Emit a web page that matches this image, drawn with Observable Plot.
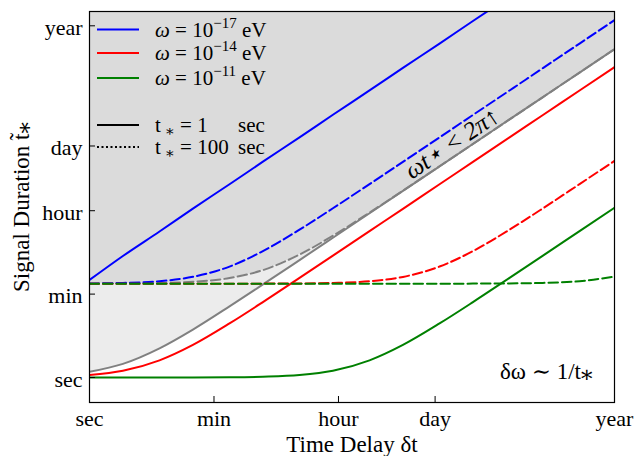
<!DOCTYPE html>
<html>
<head>
<meta charset="utf-8">
<script src="https://cdn.jsdelivr.net/npm/d3@7"></script>
<script src="https://cdn.jsdelivr.net/npm/@observablehq/plot@0.6"></script>
<style>
  body { margin: 0; background: #fff; }
  #chart { position: relative; width: 636px; height: 456px; }
  #legend { position: absolute; left: 0; top: 0; pointer-events: none; }
</style>
</head>
<body>
<div id="chart"></div>
<script>
// Time delay δt (seconds) at which every curve is sampled
const delay = [1, 3, 10, 30, 100, 300, 1e3, 3e3, 1e4, 3e4, 1e5, 3e5, 1e6, 3e6, 1e7, 3.156e7];

// Signal duration t̃* (seconds); "Short" = t* = 1 sec, "Long" = t* = 100 sec
const blueShort  = [120, 390, 1.3e3, 4.0e3, 1.32e4, 4.0e4, 1.32e5, 4.0e5, 1.32e6, 4.0e6, 1.32e7, 4.0e7, 1.32e8, 4.0e8, 1.32e9, 4.2e9];
const blueLong   = [101, 104, 113, 140, 232, 496, 1420, 4060, 1.33e4, 3.97e4, 1.32e5, 3.96e5, 1.32e6, 3.96e6, 1.32e7, 4.17e7];
const redShort   = [1.13, 1.39, 2.32, 4.95, 14.2, 40.5, 133, 396, 1320, 3950, 1.32e4, 3.95e4, 1.32e5, 3.95e5, 1.32e6, 4.15e6];
const redLong    = [100, 100, 100, 100, 100.1, 100.4, 101.3, 104, 113, 139.5, 232, 495, 1420, 4050, 1.33e4, 4.16e4];
const greenShort = [1, 1, 1, 1, 1.01, 1.04, 1.13, 1.39, 2.32, 4.95, 14.2, 40.5, 133, 396, 1320, 4150];
const greenLong  = [100, 100, 100, 100, 100, 100, 100, 100, 100, 100, 100.1, 100.4, 101.3, 104, 113, 141.5];
// ωt* = 2π boundary for each t*
const greyShort  = [1.32, 1.95, 4.18, 10.5, 32.8, 96.4, 319, 955, 3180, 9540, 3.18e4, 9.54e4, 3.18e5, 9.54e5, 3.18e6, 1.0e7];
const greyLong   = [100.3, 101, 103, 109.5, 132, 195, 418, 1054, 3280, 9640, 3.19e4, 9.55e4, 3.18e5, 9.54e5, 3.18e6, 1.0e7];

// Axis ticks (seconds) and their names
const tickValues = [1, 60, 3600, 86400, 3.156e7];
const tickNames  = ["sec", "min", "hour", "day", "year"];

const xDomain = [1, 3.156e7];
const yDomain = [0.293, 6.37e7];

const colors = {blue: "#0000ff", red: "#ff0000", green: "#008000", grey: "#808080"};
const exponents = ["−17", "−14", "−11"];

const rows = v => delay.map((d, i) => ({delay: d, duration: v[i]}));
const ticks = tickValues.map((v, i) => ({value: v, name: tickNames[i]}));

const serif = "'Liberation Serif', 'Times New Roman', 'DejaVu Serif', serif";
const dash = "9.5,4";

const curve = (values, color, dashed) => Plot.line(rows(values), {
  x: "delay", y: "duration", stroke: color, strokeWidth: 2,
  strokeDasharray: dashed ? dash : null, curve: "monotone-x", clip: true
});

const shade = values => Plot.areaY(rows(values), {
  x: "delay", y1: "duration", y2: () => yDomain[1],
  fill: colors.grey, fillOpacity: 0.15, curve: "monotone-x", clip: true
});

const note = [{delay: 4.0e4, duration: 1.65e4, text: "ωt⋆ < 2π↑"}];

const plot = Plot.plot({
  width: 636,
  height: 456,
  marginTop: 11,
  marginRight: 22,
  marginBottom: 54,
  marginLeft: 89,
  x: {type: "log", domain: xDomain, axis: null},
  y: {type: "log", domain: yDomain, axis: null},
  style: {fontFamily: serif, background: "white", color: "black"},
  marks: [
    shade(greyShort),
    shade(greyLong),
    curve(greyShort, colors.grey, false),
    curve(greyLong, colors.grey, true),
    curve(blueShort, colors.blue, false),
    curve(blueLong, colors.blue, true),
    curve(redShort, colors.red, false),
    curve(redLong, colors.red, true),
    curve(greenShort, colors.green, false),
    curve(greenLong, colors.green, true),
    Plot.text(note, {
      x: "delay", y: "duration", text: "text", rotate: -33.7,
      textAnchor: "start", lineAnchor: "bottom", fontSize: 25, fontStyle: "italic", fill: "black"
    }),
    Plot.text(["δω ∼ 1/t⁎"], {
      text: d => d, frameAnchor: "bottom-right", textAnchor: "end", lineAnchor: "bottom",
      dx: -22, dy: -24, fontSize: 23, fill: "black"
    }),
    // inward tick marks on the bottom and left spines
    Plot.tickX(tickValues, {x: d => d, insetTop: 385, stroke: "black", strokeWidth: 1}),
    Plot.tickY(tickValues, {y: d => d, insetRight: 519, stroke: "black", strokeWidth: 1}),
    // tick labels
    Plot.text(ticks, {
      x: "value", text: "name", frameAnchor: "bottom", lineAnchor: "top",
      dy: 7.5, fontSize: 22, fill: "black"
    }),
    Plot.text(ticks, {
      y: "value", text: "name", frameAnchor: "left", textAnchor: "end",
      dx: -7, dy: 2, fontSize: 22, fill: "black"
    }),
    // axis titles
    Plot.text(["Time Delay δt"], {
      text: d => d, frameAnchor: "bottom", textAnchor: "middle", lineAnchor: "bottom",
      dy: 49, fontSize: 23, fill: "black"
    }),
    Plot.text(["Signal Duration t̃⁎"], {
      text: d => d, frameAnchor: "left", textAnchor: "middle", lineAnchor: "middle",
      rotate: -90, dx: -68, fontSize: 23, fill: "black"
    }),
    Plot.frame({stroke: "black", strokeWidth: 1.2})
  ]
});

const chart = document.getElementById("chart");
chart.appendChild(plot);

// Legend drawn inside the upper-left corner of the frame
const legend = d3.select(chart).append("svg")
  .attr("id", "legend")
  .attr("width", 636).attr("height", 456)
  .style("font-family", serif)
  .style("font-size", "21px");

const omegaRows = [
  {color: colors.blue,  exp: exponents[0], y: 29.5},
  {color: colors.red,   exp: exponents[1], y: 53},
  {color: colors.green, exp: exponents[2], y: 78}
];
for (const r of omegaRows) {
  legend.append("line")
    .attr("x1", 97).attr("x2", 139).attr("y1", r.y).attr("y2", r.y)
    .attr("stroke", r.color).attr("stroke-width", 2);
  const t = legend.append("text").attr("x", 155).attr("y", r.y + 7);
  t.append("tspan").attr("font-style", "italic").text("ω");
  t.append("tspan").text(" = 10");
  t.append("tspan").attr("dy", -9).attr("font-size", "15px").text(r.exp);
  t.append("tspan").attr("dy", 9).text(" eV");
}

const tRows = [
  {value: "1", dashed: false, y: 125},
  {value: "100", dashed: true, y: 147}
];
for (const r of tRows) {
  legend.append("line")
    .attr("x1", 97).attr("x2", 139).attr("y1", r.y).attr("y2", r.y)
    .attr("stroke", "black").attr("stroke-width", 2)
    .attr("stroke-dasharray", r.dashed ? "2,2.5" : null);
  const t = legend.append("text").attr("x", 155).attr("y", r.y + 6.5);
  t.append("tspan").text("t");
  t.append("tspan").attr("dy", 4).attr("font-size", "15px").text(" ∗");
  t.append("tspan").attr("dy", -4).text(" = " + r.value);
  legend.append("text").attr("x", 238).attr("y", r.y + 6.5).text("sec");
}
</script>
</body>
</html>
